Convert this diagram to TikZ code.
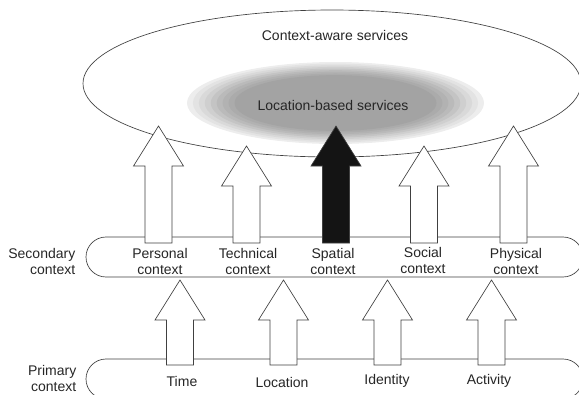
\documentclass[tikz,border=0pt]{standalone}
\usepackage{fontspec}
\setmainfont{Liberation Sans}
\usetikzlibrary{shapes.geometric,calc}

% block arrow from a tail coordinate (only its y is used) up to a tip
\newcommand{\blockarrow}[3][white]{%
  \draw[outline, fill=#1] let \p1=(#2), \p2=(#3) in
    (\p2) -- (\x2+18.75pt,\y2-30pt) -- (\x2+10.125pt,\y2-30pt)
    -- (\x2+10.125pt,\y1) -- (\x2-10.125pt,\y1)
    -- (\x2-10.125pt,\y2-30pt) -- (\x2-18.75pt,\y2-30pt) -- cycle;}

\begin{document}
\begin{tikzpicture}[
    x=0.75pt, y=-0.75pt,
    font=\fontsize{10.5}{12}\selectfont,
    text=black!85,
    outline/.style={
        draw=black!75,
        line width=0.5pt,
        line join=miter
    },
    band/.style={
        outline,
        fill=white,
        rounded corners=15pt,
        minimum width=372.75pt,
        minimum height=30pt,
        inner sep=0pt
    },
    context/.style={
        align=center
    },
    side/.style={
        align=right,
        anchor=east
    }]

\useasboundingbox (0,0) rectangle (579,394);
\clip (0,0) rectangle (579,394);

% Services
\node[
    ellipse,
    outline,
    minimum width=373.5pt,
    minimum height=110.25pt,
    inner sep=0pt
] (aware) at (332,83.5) {};

\foreach \s/\g in {1/7,0.96/11,0.92/15,0.88/19,0.84/23,0.80/27,0.76/30,0.72/33,0.68/36}
    \fill[black!\g] (335.5,103) ellipse [x radius=\s*111.4pt, y radius=\s*30.75pt];

\node (aware text) at (335,35) {Context-aware services};
\node (location based) at (333,105) {Location-based services};


% Bands
\node[band] (secondary) at (334.5,257) {};
\node[band] (primary) at (334.5,379) {};

\node[side] (secondary label) at (80,261) {Secondary\\context};
\node[side] (primary label) at (81,378.5) {Primary\\context};


% Secondary context
\node[context] (personal) at (160,261) {Personal\\context};
\node[context] (technical) at (248,261) {Technical\\context};
\node[context] (spatial) at (333,261) {Spatial\\context};
\node[context] (social) at (423,260) {Social\\context};
\node[context] (physical) at (516,261) {Physical\\context};


% Primary context
\node (time) at (182,381) {Time};
\node (location) at (282,382) {Location};
\node (identity) at (387,381) {Identity};
\node (activity) at (489,381) {Activity};


% Arrow ends
\coordinate (upper tail) at (0,243);
\coordinate (lower tail) at (0,365);

\coordinate (personal tip) at (158.5,126);
\coordinate (technical tip) at (246.5,146);
\coordinate (spatial tip) at (336,126);
\coordinate (social tip) at (424,146);
\coordinate (physical tip) at (513.5,126);

\coordinate (time tip) at (180,280);
\coordinate (location tip) at (283.5,280);
\coordinate (identity tip) at (387.5,280);
\coordinate (activity tip) at (491.5,280);


% Arrows
\blockarrow{upper tail}{personal tip}
\blockarrow{upper tail}{technical tip}
\blockarrow[black!92]{upper tail}{spatial tip}
\blockarrow{upper tail}{social tip}
\blockarrow{upper tail}{physical tip}

\blockarrow{lower tail}{time tip}
\blockarrow{lower tail}{location tip}
\blockarrow{lower tail}{identity tip}
\blockarrow{lower tail}{activity tip}

\end{tikzpicture}
\end{document}
